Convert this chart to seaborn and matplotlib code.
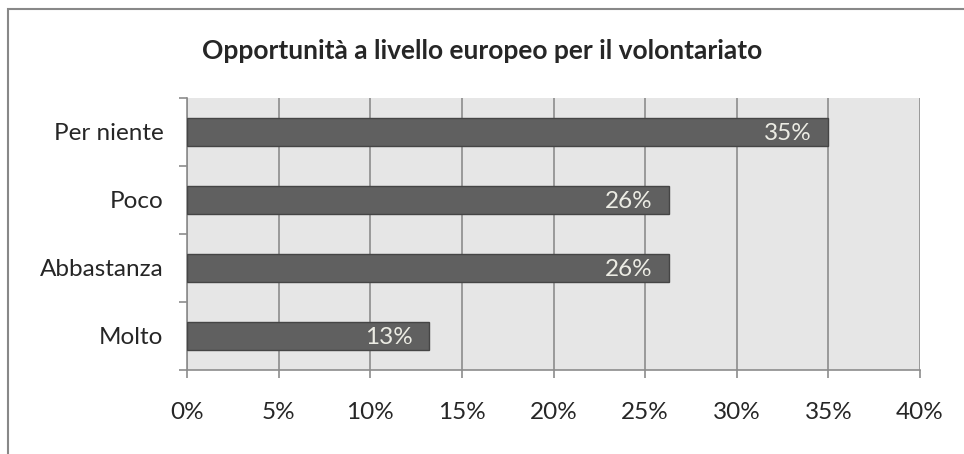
import numpy as np
import pandas as pd
import matplotlib as mpl
import matplotlib.pyplot as plt
import seaborn as sns

categorie = ["Per niente", "Poco", "Abbastanza", "Molto"]
valori = [35.0, 26.3, 26.3, 13.2]
etichette = ["35%", "26%", "26%", "13%"]
tick_x = [0, 5, 10, 15, 20, 25, 30, 35, 40]

df = pd.DataFrame({"categoria": categorie, "valore": valori})

sns.set_style("white")
plt.rcParams["font.family"] = ["Lato", "DejaVu Sans"]

fig = plt.figure(figsize=(9.64, 4.54), dpi=100)
ax = fig.add_axes([187 / 964, 84 / 454, 733 / 964, 272 / 454])
ax.set_facecolor("#e6e6e6")

sns.barplot(data=df, x="valore", y="categoria", orient="h", color="#606060",
            saturation=1, width=0.41, edgecolor="#454545", linewidth=1, ax=ax, zorder=3)

for p, lab in zip(ax.patches, etichette):
    ax.text(p.get_x() + p.get_width() - 0.9, p.get_y() + p.get_height() / 2 + 0.02, lab,
            ha="right", va="center", color="#ececE4", fontsize=17.5, zorder=4)

ax.set_xlim(0, 40)
ax.set_ylim(3.5, -0.5)
ax.set_xticks(tick_x)
ax.set_xticklabels([f"{t}%" for t in tick_x], fontsize=17.5)
ax.xaxis.grid(True, color="#8c8c8c", linewidth=1.2, zorder=1)
ax.set_axisbelow(True)
ax.tick_params(axis="x", length=6, width=1.2, color="#8c8c8c", pad=17, bottom=True)
ax.tick_params(axis="y", which="major", length=0, pad=17, labelsize=17.5)
ax.set_yticks([-0.5, 0.5, 1.5, 2.5, 3.5], minor=True)
ax.tick_params(axis="y", which="minor", length=6, width=1.2, color="#8c8c8c", left=True)
ax.set_xlabel("")
ax.set_ylabel("")

for s in ["top", "right"]:
    ax.spines[s].set_visible(False)
for s in ["left", "bottom"]:
    ax.spines[s].set_color("#8c8c8c")
    ax.spines[s].set_linewidth(1.2)

fig.text(482 / 964, 1 - 51 / 454, "Opportunità a livello europeo per il volontariato",
         ha="center", va="center", fontsize=19, fontweight="bold")

fig.patches.append(mpl.patches.Rectangle((7.5 / 964, -0.1), 1.2, 1 - 8.5 / 454 + 0.1,
                                         transform=fig.transFigure, fill=False,
                                         edgecolor="#888888", linewidth=1.5))

fig.savefig("out.png", dpi=100)
